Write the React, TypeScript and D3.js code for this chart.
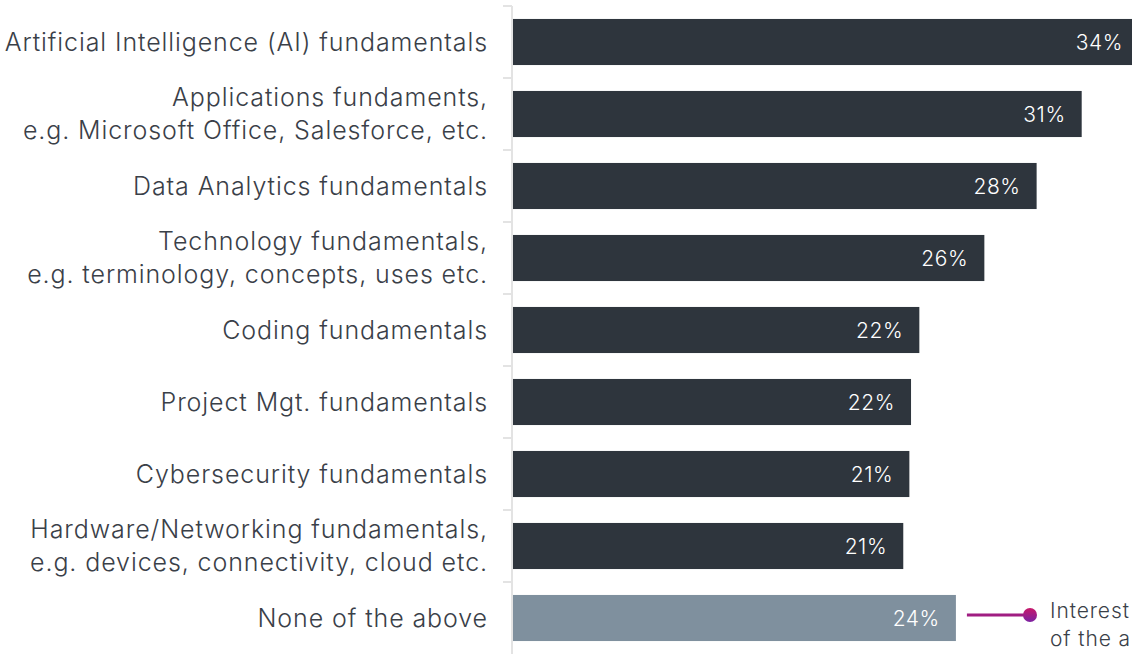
import React from "react";
import * as d3 from "d3";

const categories: string[][] = [
  ["Artificial Intelligence (AI) fundamentals"],
  ["Applications fundaments,", "e.g. Microsoft Office, Salesforce, etc."],
  ["Data Analytics fundamentals"],
  ["Technology fundamentals,", "e.g. terminology, concepts, uses etc."],
  ["Coding fundamentals"],
  ["Project Mgt. fundamentals"],
  ["Cybersecurity fundamentals"],
  ["Hardware/Networking fundamentals,", "e.g. devices, connectivity, cloud etc."],
  ["None of the above"],
];
const values: number[] = [33.9, 30.79, 28.35, 25.52, 22.0, 21.55, 21.46, 21.13, 23.98];
const valueLabels: string[] = ["34%", "31%", "28%", "26%", "22%", "22%", "21%", "21%", "24%"];
const highlightIndex = 8;
const annotationLines: string[] = ["Interest", "of the a"];

const W = 1132;
const H = 654;
const FONT = "Inter, 'Noto Sans', sans-serif";

export default function App() {
  const keys = categories.map((_, i) => String(i));
  const y = d3.scaleBand<string>().domain(keys).range([6, 654]).paddingInner(0.36).paddingOuter(0.18);
  const x = d3.scaleLinear().domain([0, 34]).range([513, 513 + 34 * 18.47]);
  const step = y.step();
  const gap = step * 0.36;
  const last = keys[highlightIndex];
  const lastCy = (y(last) as number) + y.bandwidth() / 2;
  const lastEnd = x(values[highlightIndex]);

  return (
    <svg width={W} height={H} style={{ position: "absolute", left: 0, top: 0, background: "#fff" }}>
      <defs>
        <linearGradient id="dotGrad" x1="0" y1="0" x2="0" y2="1">
          <stop offset="0%" stopColor="#c8186a" />
          <stop offset="100%" stopColor="#7b22a3" />
        </linearGradient>
      </defs>
      {/* axis */}
      <line x1={512} x2={512} y1={6} y2={H} stroke="#e3e3e3" strokeWidth={2} />
      {keys.map((k) => {
        const ty = (y(k) as number) - gap / 2;
        return <line key={"t" + k} x1={503} x2={512} y1={ty} y2={ty} stroke="#e3e3e3" strokeWidth={2} />;
      })}
      {/* bars */}
      {keys.map((k, i) => (
        <rect
          key={"b" + k}
          x={x(0)}
          y={y(k) as number}
          width={x(values[i]) - x(0)}
          height={y.bandwidth()}
          fill={i === highlightIndex ? "#7f909e" : "#2e353d"}
        />
      ))}
      {/* value labels */}
      {keys.map((k, i) => (
        <text
          key={"v" + k}
          x={x(values[i]) - 16}
          y={(y(k) as number) + y.bandwidth() / 2}
          dy="0.36em"
          textAnchor="end"
          fill="#ffffff"
          fontFamily={FONT}
          fontWeight={300}
          fontSize={21}
          letterSpacing={0.6}
        >
          {valueLabels[i]}
        </text>
      ))}
      {/* category labels */}
      {keys.map((k, i) => {
        const lines = categories[i];
        const cy = (y(k) as number) + y.bandwidth() / 2;
        const lh = 33;
        const start = cy - ((lines.length - 1) * lh) / 2;
        return (
          <text
            key={"c" + k}
            textAnchor="end"
            fill="#3a4048"
            fontFamily={FONT}
            fontWeight={300}
            fontSize={25}
            letterSpacing={0.9}
          >
            {lines.map((ln, j) => (
              <tspan key={j} x={488} y={start + j * lh} dy="0.35em">
                {ln}
              </tspan>
            ))}
          </text>
        );
      })}
      {/* annotation */}
      <line x1={lastEnd + 11} x2={1030} y1={lastCy - 3} y2={lastCy - 3} stroke="#a01d82" strokeWidth={3} />
      <circle cx={1030} cy={lastCy - 3} r={7} fill="url(#dotGrad)" />
      <text fill="#3a4048" fontFamily={FONT} fontWeight={300} fontSize={21} letterSpacing={0.9}>
        {annotationLines.map((ln, j) => (
          <tspan key={j} x={1050} y={lastCy - 7 + j * 28} dy="0.35em">
            {ln}
          </tspan>
        ))}
      </text>
    </svg>
  );
}
